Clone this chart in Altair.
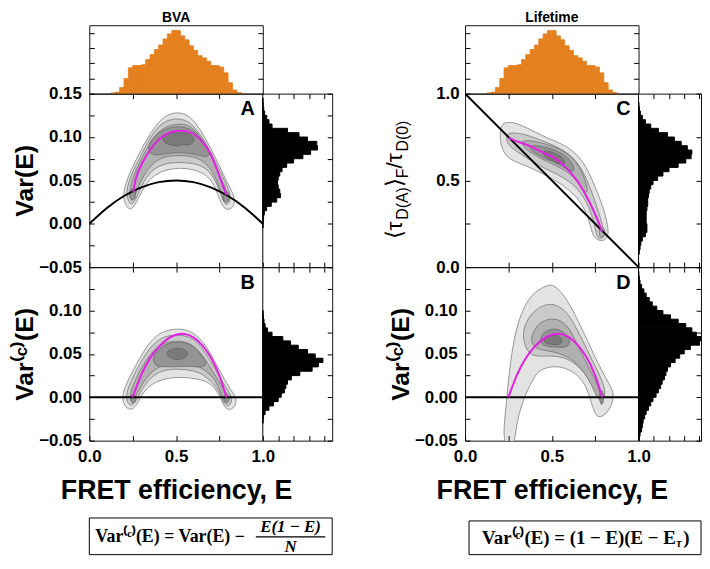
import altair as alt
import pandas as pd

# ---------------- data ----------------
# FRET-efficiency histogram (top panels), bin width 0.025
E_HIST_LO = [0.125, 0.15, 0.175, 0.2, 0.225, 0.25, 0.275, 0.3, 0.325, 0.35,
             0.375, 0.4, 0.425, 0.45, 0.475, 0.5, 0.525, 0.55, 0.575, 0.6,
             0.625, 0.65, 0.675, 0.7, 0.725, 0.75, 0.775, 0.8, 0.825, 0.85]
E_HIST_C = [0.05, 0.1, 0.4, 1.0, 1.7, 1.85, 1.85, 1.9, 2.24, 2.57,
            2.9, 3.2, 3.6, 3.93, 4.15, 4.15, 3.8, 3.54, 3.15, 2.85,
            2.5, 2.35, 2.13, 1.85, 1.85, 1.75, 1.37, 0.72, 0.24, 0.07]

# Var(E) histogram (panel A), bin width 0.005
VAR_A_LO = [-0.005, 0.0, 0.005, 0.01, 0.015, 0.02, 0.025, 0.03, 0.035, 0.04,
            0.045, 0.05, 0.055, 0.06, 0.065, 0.07, 0.075, 0.08, 0.085, 0.09,
            0.095, 0.1, 0.105, 0.11, 0.115, 0.12, 0.125, 0.13, 0.135, 0.14]
VAR_A_C = [0.02, 0.03, 0.05, 0.1, 0.25, 0.55, 0.9, 1.15, 1.1, 1.0,
           0.95, 1.0, 1.1, 1.25, 1.55, 2.0, 2.6, 3.1, 3.55, 3.5,
           2.9, 2.35, 1.6, 0.6, 0.4, 0.26, 0.12, 0.06, 0.03, 0.01]

# Var(c)(E) histogram (panel B)
VAR_B_LO = [-0.03, -0.025, -0.02, -0.015, -0.01, -0.005, 0.0, 0.005, 0.01, 0.015,
            0.02, 0.025, 0.03, 0.035, 0.04, 0.045, 0.05, 0.055, 0.06, 0.065,
            0.07, 0.075, 0.08, 0.085, 0.09, 0.095]
VAR_B_C = [0.02, 0.05, 0.15, 0.4, 0.7, 1.0, 1.2, 1.4, 1.5, 1.6,
           1.85, 2.4, 3.2, 3.6, 3.9, 3.4, 2.9, 2.3, 1.8, 1.3,
           0.6, 0.3, 0.15, 0.08, 0.04, 0.02]

# <tau_D(A)>_F / tau_D(0) histogram (panel C), bin width 0.025
TAU_C_LO = [0.075, 0.1, 0.125, 0.15, 0.175, 0.2, 0.225, 0.25, 0.275, 0.3,
            0.325, 0.35, 0.375, 0.4, 0.425, 0.45, 0.475, 0.5, 0.525, 0.55,
            0.575, 0.6, 0.625, 0.65, 0.675, 0.7, 0.725, 0.75, 0.775, 0.8,
            0.825, 0.85, 0.875, 0.9, 0.925]
TAU_C_C = [0.05, 0.1, 0.15, 0.25, 0.45, 0.55, 0.55, 0.5, 0.5, 0.5,
           0.55, 0.6, 0.6, 0.65, 0.7, 0.8, 0.95, 1.25, 1.6, 2.0,
           2.6, 3.1, 3.45, 3.5, 3.2, 2.8, 2.35, 1.9, 1.3, 0.8,
           0.45, 0.25, 0.12, 0.06, 0.03]

# Var(c)(E) histogram (panel D)
VAR_D_LO = [-0.05, -0.045, -0.04, -0.035, -0.03, -0.025, -0.02, -0.015, -0.01, -0.005,
            0.0, 0.005, 0.01, 0.015, 0.02, 0.025, 0.03, 0.035, 0.04, 0.045,
            0.05, 0.055, 0.06, 0.065, 0.07, 0.075, 0.08, 0.085, 0.09, 0.095,
            0.1, 0.105, 0.11, 0.115, 0.12, 0.125, 0.13, 0.135, 0.14]
VAR_D_C = [0.05, 0.1, 0.2, 0.25, 0.3, 0.4, 0.5, 0.65, 0.8, 0.95,
           1.15, 1.3, 1.45, 1.55, 1.7, 1.8, 1.9, 2.1, 2.4, 2.7,
           3.0, 3.4, 4.0, 4.1, 3.8, 3.5, 3.1, 2.6, 2.1, 1.6,
           1.2, 0.9, 0.7, 0.5, 0.35, 0.2, 0.1, 0.05, 0.02]

# reference curves
SHOT_E = [0.0, 0.1, 0.2, 0.3, 0.4, 0.5, 0.6, 0.7, 0.8, 0.9, 1.0]
SHOT_V = [0.0, 0.018, 0.032, 0.042, 0.048, 0.05, 0.048, 0.042, 0.032, 0.018, 0.0]
ZERO_E = [0.0, 1.0]
ZERO_V = [0.0, 0.0]
DIAG_E = [0.0, 1.0]
DIAG_T = [1.0, 0.0]

# magenta model curves
MAG_A_E = [0.253, 0.27, 0.3, 0.35, 0.4, 0.45, 0.5, 0.55, 0.6, 0.65, 0.7, 0.75, 0.79]
MAG_A_V = [0.036, 0.053, 0.068, 0.085, 0.097, 0.104, 0.107, 0.107, 0.1035, 0.095, 0.08, 0.055, 0.033]
MAG_B_E = [0.25, 0.3, 0.35, 0.4, 0.45, 0.5, 0.55, 0.6, 0.65, 0.7, 0.75, 0.79]
MAG_B_V = [0.0, 0.026, 0.045, 0.058, 0.067, 0.072, 0.073, 0.069, 0.06, 0.046, 0.025, 0.0]
MAG_C_E = [0.253, 0.3, 0.38, 0.45, 0.5, 0.571, 0.648, 0.714, 0.762, 0.79]
MAG_C_T = [0.745, 0.725, 0.695, 0.66, 0.638, 0.585, 0.495, 0.381, 0.276, 0.205]
MAG_D_E = [0.25, 0.3, 0.35, 0.4, 0.45, 0.5, 0.55, 0.6, 0.65, 0.7, 0.75, 0.79]
MAG_D_V = [0.0, 0.026, 0.045, 0.058, 0.067, 0.072, 0.073, 0.069, 0.06, 0.046, 0.025, 0.0]

# density contours (E, value), levels light -> dark
A_L1 = [(0.22, 0.018), (0.195, 0.028), (0.2, 0.04), (0.225, 0.055), (0.26, 0.07), (0.3, 0.086),
        (0.345, 0.102), (0.39, 0.115), (0.43, 0.123), (0.48, 0.128), (0.53, 0.128), (0.575, 0.124),
        (0.615, 0.116), (0.65, 0.105), (0.69, 0.091), (0.73, 0.075), (0.77, 0.058), (0.81, 0.042),
        (0.84, 0.03), (0.835, 0.02), (0.8, 0.015), (0.765, 0.02), (0.745, 0.032), (0.715, 0.047),
        (0.67, 0.057), (0.61, 0.062), (0.55, 0.064), (0.5, 0.064), (0.44, 0.062), (0.38, 0.057),
        (0.33, 0.047), (0.295, 0.034), (0.265, 0.022), (0.24, 0.016)]
A_L2 = [(0.225, 0.026), (0.213, 0.035), (0.225, 0.047), (0.25, 0.06), (0.29, 0.076), (0.335, 0.094),
        (0.38, 0.108), (0.425, 0.117), (0.48, 0.121), (0.53, 0.121), (0.58, 0.117), (0.62, 0.108),
        (0.66, 0.097), (0.7, 0.083), (0.74, 0.066), (0.78, 0.05), (0.812, 0.036), (0.812, 0.025),
        (0.79, 0.021), (0.77, 0.026), (0.75, 0.04), (0.715, 0.054), (0.67, 0.065), (0.6, 0.07),
        (0.5, 0.071), (0.43, 0.069), (0.37, 0.063), (0.33, 0.054), (0.3, 0.043), (0.275, 0.031),
        (0.255, 0.024), (0.24, 0.022)]
A_L3 = [(0.235, 0.029), (0.232, 0.041), (0.26, 0.058), (0.3, 0.075), (0.345, 0.092), (0.39, 0.104),
        (0.44, 0.112), (0.5, 0.115), (0.55, 0.115), (0.6, 0.11), (0.64, 0.1), (0.68, 0.087),
        (0.72, 0.07), (0.76, 0.052), (0.793, 0.038), (0.8, 0.027), (0.785, 0.024), (0.765, 0.03),
        (0.745, 0.045), (0.71, 0.061), (0.66, 0.072), (0.6, 0.078), (0.5, 0.079), (0.42, 0.077),
        (0.36, 0.069), (0.315, 0.056), (0.28, 0.042), (0.26, 0.031), (0.247, 0.026)]
A_L4 = [(0.33, 0.088), (0.37, 0.1), (0.42, 0.108), (0.48, 0.112), (0.55, 0.112), (0.61, 0.106),
        (0.66, 0.095), (0.7, 0.082), (0.68, 0.076), (0.62, 0.08), (0.55, 0.082), (0.48, 0.082),
        (0.42, 0.08), (0.36, 0.078)]
A_FOOT_L = [(0.23, 0.034), (0.24, 0.04), (0.255, 0.041), (0.27, 0.036), (0.265, 0.029), (0.25, 0.027), (0.235, 0.029)]
A_FOOT_R = [(0.77, 0.031), (0.78, 0.037), (0.795, 0.038), (0.81, 0.033), (0.805, 0.026), (0.79, 0.024), (0.775, 0.026)]
A_L5 = [(0.42, 0.1), (0.45, 0.104), (0.5, 0.105), (0.56, 0.105), (0.6, 0.101), (0.61, 0.094),
        (0.57, 0.09), (0.54, 0.092), (0.51, 0.089), (0.47, 0.091), (0.43, 0.093)]

B_L1 = [(0.21, -0.012), (0.19, -0.004), (0.195, 0.006), (0.215, 0.016), (0.25, 0.03), (0.29, 0.045),
        (0.335, 0.06), (0.385, 0.071), (0.44, 0.077), (0.5, 0.079), (0.56, 0.078), (0.61, 0.073),
        (0.66, 0.063), (0.7, 0.05), (0.74, 0.035), (0.775, 0.022), (0.81, 0.01), (0.84, 0.002),
        (0.85, -0.006), (0.83, -0.013), (0.8, -0.015), (0.775, -0.01), (0.755, 0.0), (0.73, 0.009),
        (0.69, 0.017), (0.63, 0.021), (0.55, 0.023), (0.48, 0.023), (0.41, 0.02), (0.36, 0.015),
        (0.32, 0.008), (0.29, -0.002), (0.27, -0.01), (0.24, -0.015)]
B_L2 = [(0.225, -0.008), (0.21, 0.0), (0.225, 0.012), (0.26, 0.027), (0.3, 0.042), (0.345, 0.056),
        (0.395, 0.066), (0.45, 0.071), (0.5, 0.072), (0.56, 0.071), (0.61, 0.066), (0.65, 0.057),
        (0.69, 0.045), (0.73, 0.031), (0.77, 0.017), (0.81, 0.005), (0.825, -0.003), (0.81, -0.01),
        (0.785, -0.01), (0.77, -0.004), (0.745, 0.008), (0.71, 0.017), (0.66, 0.026), (0.6, 0.031),
        (0.5, 0.033), (0.42, 0.031), (0.36, 0.024), (0.32, 0.014), (0.29, 0.004), (0.265, -0.006),
        (0.245, -0.01)]
B_L3 = [(0.24, -0.004), (0.233, 0.004), (0.26, 0.018), (0.3, 0.034), (0.345, 0.048), (0.39, 0.058),
        (0.45, 0.064), (0.5, 0.065), (0.56, 0.064), (0.61, 0.058), (0.65, 0.049), (0.69, 0.037),
        (0.73, 0.024), (0.77, 0.011), (0.8, 0.002), (0.8, -0.005), (0.78, -0.006), (0.765, 0.0),
        (0.74, 0.015), (0.7, 0.026), (0.65, 0.034), (0.58, 0.039), (0.5, 0.04), (0.42, 0.037),
        (0.36, 0.03), (0.32, 0.02), (0.285, 0.008), (0.26, -0.002), (0.25, -0.005)]
B_L4 = [(0.36, 0.045), (0.4, 0.056), (0.45, 0.062), (0.5, 0.064), (0.56, 0.063), (0.61, 0.057),
        (0.65, 0.048), (0.68, 0.038), (0.65, 0.034), (0.58, 0.036), (0.5, 0.035), (0.43, 0.035),
        (0.38, 0.036)]
B_FOOT_L = [(0.235, -0.002), (0.245, 0.004), (0.26, 0.004), (0.27, -0.001), (0.26, -0.007), (0.245, -0.007)]
B_FOOT_R = [(0.775, -0.002), (0.785, 0.004), (0.8, 0.004), (0.81, -0.001), (0.8, -0.007), (0.785, -0.007)]
B_L5 = [(0.44, 0.05), (0.46, 0.055), (0.5, 0.057), (0.55, 0.056), (0.57, 0.051), (0.56, 0.046),
        (0.52, 0.043), (0.47, 0.044)]

C_L1 = [(0.206, 0.81), (0.22, 0.83), (0.267, 0.838), (0.324, 0.819), (0.4, 0.781), (0.476, 0.743),
        (0.552, 0.714), (0.629, 0.667), (0.686, 0.6), (0.733, 0.505), (0.771, 0.41), (0.8, 0.333),
        (0.819, 0.257), (0.829, 0.19), (0.81, 0.152), (0.762, 0.152), (0.733, 0.19), (0.724, 0.238),
        (0.705, 0.295), (0.676, 0.362), (0.629, 0.419), (0.571, 0.467), (0.505, 0.509), (0.438, 0.543),
        (0.371, 0.577), (0.305, 0.6), (0.248, 0.629), (0.213, 0.676), (0.2, 0.752)]
C_L2 = [(0.238, 0.771), (0.286, 0.775), (0.362, 0.762), (0.457, 0.724), (0.552, 0.686), (0.629, 0.629),
        (0.686, 0.543), (0.733, 0.429), (0.771, 0.314), (0.8, 0.219), (0.8, 0.162), (0.762, 0.162),
        (0.752, 0.219), (0.733, 0.295), (0.695, 0.39), (0.638, 0.467), (0.571, 0.514), (0.495, 0.552),
        (0.419, 0.59), (0.343, 0.638), (0.267, 0.686), (0.238, 0.724)]
C_L3 = [(0.333, 0.733), (0.419, 0.724), (0.514, 0.695), (0.59, 0.657), (0.648, 0.6), (0.686, 0.524),
        (0.714, 0.429), (0.686, 0.429), (0.648, 0.495), (0.59, 0.552), (0.514, 0.59), (0.429, 0.629),
        (0.352, 0.676), (0.324, 0.714)]
C_FOOT = [(0.77, 0.2), (0.78, 0.23), (0.8, 0.23), (0.81, 0.2), (0.8, 0.17), (0.78, 0.17)]
C_L4 = [(0.381, 0.705), (0.457, 0.695), (0.543, 0.667), (0.61, 0.619), (0.638, 0.552), (0.6, 0.552),
        (0.552, 0.59), (0.476, 0.619), (0.4, 0.657), (0.371, 0.686)]
C_L5 = [(0.448, 0.676), (0.514, 0.661), (0.571, 0.629), (0.581, 0.59), (0.543, 0.596), (0.486, 0.619),
        (0.448, 0.648)]

D_L1 = [(0.222, -0.056), (0.225, -0.03), (0.24, -0.005), (0.25, 0.02), (0.265, 0.045), (0.285, 0.07),
        (0.315, 0.092), (0.355, 0.11), (0.4, 0.121), (0.45, 0.127), (0.49, 0.13), (0.52, 0.128),
        (0.56, 0.12), (0.6, 0.108), (0.64, 0.093), (0.69, 0.072), (0.74, 0.05), (0.79, 0.03),
        (0.835, 0.014), (0.86, 0.004), (0.845, -0.01), (0.81, -0.02), (0.77, -0.024), (0.745, -0.018),
        (0.725, -0.004), (0.7, 0.012), (0.655, 0.025), (0.59, 0.033), (0.524, 0.036), (0.467, 0.034),
        (0.42, 0.03), (0.39, 0.02), (0.34, 0.0), (0.31, -0.02), (0.29, -0.04), (0.285, -0.056)]
D_L2 = [(0.33, 0.075), (0.36, 0.09), (0.4, 0.1), (0.45, 0.106), (0.5, 0.108), (0.55, 0.104),
        (0.6, 0.095), (0.64, 0.08), (0.68, 0.065), (0.72, 0.048), (0.76, 0.032), (0.8, 0.015),
        (0.81, 0.002), (0.79, -0.006), (0.765, -0.002), (0.745, 0.01), (0.71, 0.022), (0.66, 0.035),
        (0.59, 0.045), (0.514, 0.048), (0.44, 0.047), (0.38, 0.048), (0.345, 0.058)]
D_L3 = [(0.38, 0.07), (0.41, 0.082), (0.45, 0.088), (0.5, 0.091), (0.55, 0.089), (0.6, 0.08),
        (0.635, 0.066), (0.67, 0.051), (0.71, 0.036), (0.75, 0.02), (0.78, 0.006), (0.78, -0.003),
        (0.76, 0.0), (0.73, 0.014), (0.69, 0.028), (0.64, 0.04), (0.58, 0.048), (0.52, 0.052),
        (0.46, 0.054), (0.41, 0.056), (0.385, 0.062)]
D_L4 = [(0.43, 0.068), (0.46, 0.076), (0.5, 0.079), (0.55, 0.078), (0.59, 0.071), (0.61, 0.062),
        (0.58, 0.057), (0.53, 0.058), (0.48, 0.058), (0.44, 0.061)]
D_FOOT = [(0.775, -0.003), (0.778, 0.006), (0.79, 0.009), (0.8, 0.003), (0.797, -0.008), (0.783, -0.009)]
D_L5 = [(0.45, 0.066), (0.48, 0.071), (0.52, 0.072), (0.55, 0.07), (0.565, 0.064), (0.54, 0.06),
        (0.5, 0.061), (0.46, 0.062)]

# tick values
E_TICKS = [0.0, 0.25, 0.5, 0.75, 1.0]
E_TICKS_IN = [0.25, 0.5, 0.75]
VAR_TICKS_A = [-0.05, -0.025, 0.0, 0.025, 0.05, 0.075, 0.1, 0.125, 0.15]
VAR_TICKS_B = [-0.05, -0.025, 0.0, 0.025, 0.05, 0.075, 0.1, 0.125]
TAU_TICKS = [0.0, 0.25, 0.5, 0.75, 1.0]
COUNT_TICKS = [1, 2, 3, 4]

# ---------------- style ----------------
FONT = "Liberation Sans"
SERIF = "Liberation Serif"
GRAYS = ["#e3e3e3", "#cacaca", "#b0b0b0", "#949494", "#7a7a7a"]
MAGENTA = "#e41ee4"
ORANGE = "#e5801f"
W_MAIN = 175
H_MAIN = 175
H_TOP = 69
W_HIST_L = 70
W_HIST_R = 63
LABEL_SIZE = 17
YTITLE_SIZE = 25
EXPR_VAR = "abs(round(datum.value*40)) % 2 == 0 ? format(datum.value, '.2f') : ''"
EXPR_HALF = "round(datum.value*4) % 2 == 0 ? format(datum.value, '.1f') : ''"


def hist_table(lo, c, width):
    return pd.DataFrame({"lo": lo, "hi": [round(v + width, 4) for v in lo], "c": c, "z": [0.0] * len(lo)})


def line_table(e, v):
    return pd.DataFrame({"E": e, "V": v})


def poly_table(levels):
    rows = []
    pid = 0
    for lev, polys in enumerate(levels, start=1):
        for poly in polys:
            for i, (e, v) in enumerate(poly):
                rows.append({"level": lev, "pid": pid, "i": i, "E": e, "V": v})
            pid += 1
    return pd.DataFrame(rows)


def tick_axis(orient, values, **kw):
    base = dict(orient=orient, values=values, tickSize=5, offset=-5, domain=False, grid=False,
                labels=False, ticks=True, tickColor="black", tickWidth=1, title=None, zindex=1)
    base.update(kw)
    return alt.Axis(**base)


def label_axis(orient, values, expr, title, lp, tp, title_size=YTITLE_SIZE):
    return tick_axis(orient, values, labels=True, labelExpr=expr, labelFont=FONT, labelFontSize=LABEL_SIZE,
                     labelFontWeight="bold", labelColor="black", labelPadding=lp, labelFlush=False,
                     title=title, titleFont=FONT, titleFontSize=title_size, titleFontWeight="bold",
                     titleColor="black", titlePadding=tp)


def make_panel(levels, vdom, yaxis, ref_df, mag_df, hist_df, w_hist, hmax, letter, xaxis, yticks, extra=()):
    xs = alt.Scale(domain=[0, 1], range=[0, W_MAIN], nice=False, zero=False)
    ys = alt.Scale(domain=vdom, nice=False, zero=False)
    xh = alt.Scale(domain=[0, hmax], range=[W_MAIN, W_MAIN + w_hist], nice=False, zero=False)
    pdf = poly_table(levels)
    layers = []
    for lev in range(1, 6):
        sub = pdf[pdf["level"] == lev]
        if sub.empty:
            continue
        first = lev == 1
        layers.append(
            alt.Chart(sub).mark_line(interpolate="basis-closed", fill=GRAYS[lev - 1], stroke="#5a5a5a",
                                     strokeWidth=0.6, clip=True).encode(
                x=alt.X("E:Q", scale=xs, axis=xaxis if first else None),
                y=alt.Y("V:Q", scale=ys, axis=yaxis if first else None),
                detail="pid:N", order=alt.Order("i:Q"))
        )
    layers.append(
        alt.Chart(ref_df).mark_line(color="black", strokeWidth=2, interpolate="natural", clip=True).encode(
            x=alt.X("E:Q", scale=xs, axis=tick_axis("top", E_TICKS_IN)),
            y=alt.Y("V:Q", scale=ys, axis=None))
    )
    layers.append(
        alt.Chart(mag_df).mark_line(color=MAGENTA, strokeWidth=2, interpolate="natural").encode(
            x=alt.X("E:Q", scale=xs, axis=None),
            y=alt.Y("V:Q", scale=ys, axis=None))
    )
    layers.append(
        alt.Chart(pd.DataFrame({"E": [1.0]})).mark_rule(color="black", strokeWidth=1).encode(
            x=alt.X("E:Q", scale=xs, axis=None))
    )
    layers.append(
        alt.Chart(hist_df).mark_rect(color="black", stroke="black", strokeWidth=1).encode(
            x=alt.X("z:Q", scale=xh, axis=tick_axis("bottom", COUNT_TICKS)), x2="c:Q",
            y=alt.Y("lo:Q", scale=ys, axis=tick_axis("right", yticks)), y2="hi:Q")
    )
    layers.append(
        alt.Chart(hist_df).mark_rect(opacity=0).encode(
            x=alt.X("z:Q", scale=xh, axis=tick_axis("top", COUNT_TICKS)), x2="c:Q",
            y=alt.Y("lo:Q", scale=ys, axis=None), y2="hi:Q")
    )
    layers.append(
        alt.Chart(pd.DataFrame({"t": [letter]})).mark_text(
            font=FONT, fontSize=20, fontWeight="bold", align="right", baseline="middle", color="black").encode(
            text="t:N", x=alt.value(W_MAIN - 8), y=alt.value(16))
    )
    layers.extend(extra)
    return alt.layer(*layers).resolve_scale(x="independent").resolve_axis(y="independent").properties(
        width=W_MAIN + w_hist, height=H_MAIN)


def top_hist(title):
    df = hist_table(E_HIST_LO, E_HIST_C, 0.025)
    xs = alt.Scale(domain=[0, 1], nice=False, zero=False)
    ys = alt.Scale(domain=[0, 4.5], nice=False)
    bars = alt.Chart(df).mark_rect(color=ORANGE, stroke=ORANGE, strokeWidth=0.8).encode(
        x=alt.X("lo:Q", scale=xs, axis=tick_axis("top", E_TICKS_IN)), x2="hi:Q",
        y=alt.Y("c:Q", scale=ys, axis=tick_axis("left", COUNT_TICKS)), y2="z:Q")
    ghost = alt.Chart(df).mark_rect(opacity=0).encode(
        x=alt.X("lo:Q", scale=xs, axis=None), x2="hi:Q",
        y=alt.Y("c:Q", scale=ys, axis=tick_axis("right", COUNT_TICKS)), y2="z:Q")
    return alt.layer(bars, ghost).resolve_axis(y="independent").properties(
        width=W_MAIN, height=H_TOP,
        title=alt.TitleParams(title, font=FONT, fontSize=14, fontWeight="bold", color="black",
                              offset=0, anchor="middle"))


def txt(s, x, y, size=19, style="normal", align="left", angle=0, font=SERIF, weight="bold", baseline="middle"):
    return alt.Chart(pd.DataFrame({"t": [s]})).mark_text(
        font=font, fontSize=size, fontWeight=weight, fontStyle=style, align=align, baseline=baseline,
        angle=angle, color="black").encode(text="t:N", x=alt.value(x), y=alt.value(y))


def box(x0, x1, y0, y1):
    return alt.Chart(pd.DataFrame({"b": [0]})).mark_rect(fill="white", stroke="black", strokeWidth=1).encode(
        x=alt.value(x0), x2=alt.value(x1), y=alt.value(y0), y2=alt.value(y1))


def rule(x0, x1, y):
    return alt.Chart(pd.DataFrame({"b": [0]})).mark_rule(color="black", strokeWidth=1.2).encode(
        x=alt.value(x0), x2=alt.value(x1), y=alt.value(y))


# ---------------- left column (BVA) ----------------
x_in = tick_axis("bottom", E_TICKS)
x_lab = label_axis("bottom", E_TICKS, EXPR_HALF, "FRET efficiency, E", 8, 13, title_size=27)

panel_A = make_panel(
    [[A_L1], [A_L2], [A_L3], [A_L4, A_FOOT_L, A_FOOT_R], [A_L5]], [-0.05, 0.15],
    label_axis("left", VAR_TICKS_A, EXPR_VAR, "Var(E)", 8, 1),
    line_table(SHOT_E, SHOT_V), line_table(MAG_A_E, MAG_A_V),
    hist_table(VAR_A_LO, VAR_A_C, 0.005), W_HIST_L, 4.5, "A", x_in, VAR_TICKS_A)

panel_B = make_panel(
    [[B_L1], [B_L2], [B_L3], [B_L4, B_FOOT_L, B_FOOT_R], [B_L5]], [-0.05, 0.15],
    label_axis("left", VAR_TICKS_B, EXPR_VAR, "Var⁽ᶜ⁾(E)", 8, 1),
    line_table(ZERO_E, ZERO_V), line_table(MAG_B_E, MAG_B_V),
    hist_table(VAR_B_LO, VAR_B_C, 0.005), W_HIST_L, 4.5, "B", x_lab, VAR_TICKS_A)

form_L = alt.layer(
    box(0, W_MAIN + W_HIST_L, 78, 115),
    txt("Var⁽ᶜ⁾(E) = Var(E) −", 6, 97, size=18),
    txt("E(1 − E)", 203, 87, size=17, style="italic", align="center"),
    rule(168, 238, 97),
    txt("N", 203, 107, size=17, style="italic", align="center"),
).properties(width=W_MAIN + W_HIST_L, height=116, view=alt.ViewBackground(stroke="transparent"))

col_L = alt.vconcat(top_hist("BVA"), panel_A, panel_B, form_L, spacing=0, bounds="flush")

# ---------------- right column (Lifetime) ----------------
# rotated y title for panel C built from pieces (subscripts)
pieces = [("⟨τ", 23, False, 19.8), ("D(A)", 16, True, 32.9), ("⟩", 23, False, 9.0),
          ("F", 16, True, 9.8), ("/τ", 23, False, 17.2), ("D(0)", 16, True, 31.1)]
title_C = []
pos = 147.0
for s, size, sub, w in pieces:
    title_C.append(txt(s, -58 if sub else -64, pos, size=size, angle=270, font=FONT, weight="normal",
                       baseline="alphabetic"))
    pos -= w

panel_C = make_panel(
    [[C_L1], [C_L2], [C_L3, C_FOOT], [C_L4], [C_L5]], [0.0, 1.0],
    label_axis("left", TAU_TICKS, EXPR_HALF, None, 6, 8),
    line_table(DIAG_E, DIAG_T), line_table(MAG_C_E, MAG_C_T),
    hist_table(TAU_C_LO, TAU_C_C, 0.025), W_HIST_R, 4.1, "C", x_in, TAU_TICKS, extra=title_C)

panel_D = make_panel(
    [[D_L1], [D_L2], [D_L3], [D_L4, D_FOOT], [D_L5]], [-0.05, 0.15],
    label_axis("left", VAR_TICKS_B, EXPR_VAR, "Var⁽ᶜ⁾(E)", 8, 1),
    line_table(ZERO_E, ZERO_V), line_table(MAG_D_E, MAG_D_V),
    hist_table(VAR_D_LO, VAR_D_C, 0.005), W_HIST_R, 4.1, "D", x_lab, VAR_TICKS_A)

form_R = alt.layer(
    box(4, W_MAIN + W_HIST_R, 81, 115),
    txt("Var⁽ᶜ⁾(E) = (1 − E)(E − E", 17, 98),
    txt("τ", 213, 103, size=12, style="italic"),
    txt(")", 220, 98),
).properties(width=W_MAIN + W_HIST_R, height=116, view=alt.ViewBackground(stroke="transparent"))

col_R = alt.vconcat(top_hist("Lifetime"), panel_C, panel_D, form_R, spacing=0, bounds="flush")

chart = alt.hconcat(col_L, col_R, spacing=50).properties(
    padding={"left": 4, "top": 0, "right": 0, "bottom": 0}
).configure_view(stroke="#111111", strokeWidth=1)

chart.save("out.html", embed_options={"renderer": "svg", "actions": False})
